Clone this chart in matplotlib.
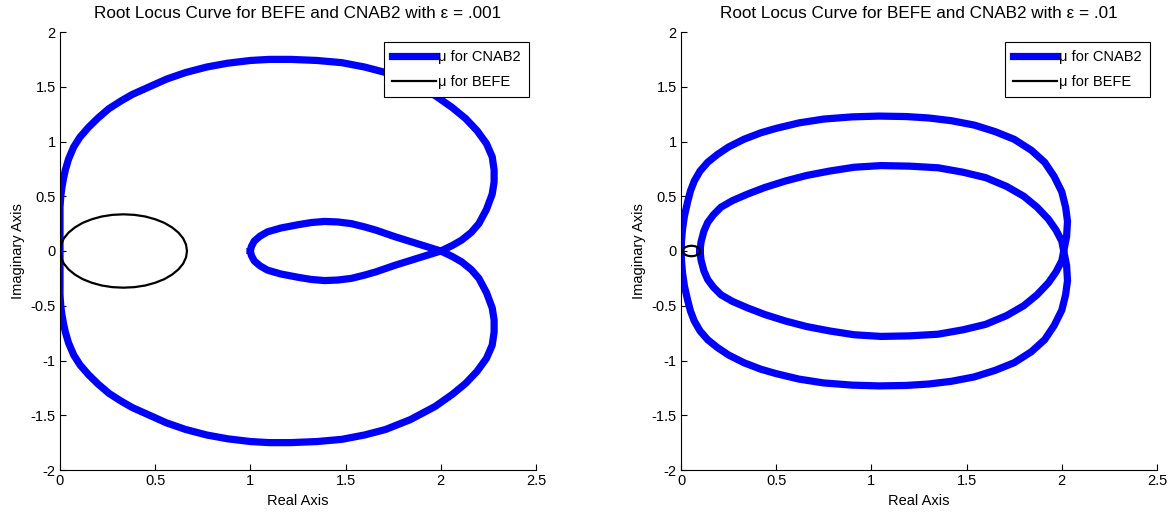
import numpy as np
import matplotlib
matplotlib.use("Agg")
import matplotlib.pyplot as plt

plt.rcParams['font.family'] = ['Liberation Sans', 'DejaVu Sans']
plt.rcParams['axes.unicode_minus'] = False

# ---- eps = .001 : mu for CNAB2 ----
# big outer loop, from the left edge round to the crossing at (2, 0)
outer_x1 = [0.00, 0.004, 0.01, 0.018, 0.028, 0.045, 0.072, 0.105, 0.15, 0.20, 0.257, 0.32, 0.38, 0.47,
            0.56, 0.66, 0.77, 0.88, 1.00, 1.10, 1.21, 1.35, 1.48, 1.60, 1.71, 1.84, 1.97, 2.06,
            2.13, 2.19, 2.24, 2.27, 2.28, 2.28, 2.27, 2.24, 2.20, 2.16, 2.11, 2.06, 2.00]
outer_up_y1 = [0.40, 0.50, 0.58, 0.66, 0.74, 0.84, 0.95, 1.04, 1.13, 1.215, 1.30, 1.37, 1.43, 1.50,
               1.57, 1.63, 1.68, 1.715, 1.74, 1.75, 1.75, 1.74, 1.72, 1.68, 1.63, 1.54, 1.42, 1.31,
               1.21, 1.10, 0.98, 0.86, 0.74, 0.63, 0.52, 0.38, 0.25, 0.17, 0.10, 0.05, 0.00]
outer_lo_y1 = [-0.40, -0.50, -0.58, -0.66, -0.74, -0.84, -0.95, -1.04, -1.13, -1.215, -1.30, -1.37, -1.43, -1.50,
               -1.57, -1.63, -1.68, -1.715, -1.74, -1.75, -1.75, -1.74, -1.72, -1.68, -1.63, -1.54, -1.42, -1.31,
               -1.21, -1.10, -0.98, -0.86, -0.74, -0.63, -0.52, -0.38, -0.25, -0.17, -0.10, -0.05, 0.00]
# small inner loop, from (1, 0) to the crossing
inner_x1 = [1.00, 1.005, 1.02, 1.05, 1.09, 1.16, 1.25, 1.32, 1.39, 1.46, 1.53, 1.60, 1.66, 1.76, 1.88, 2.00]
inner_up_y1 = [0.00, 0.04, 0.09, 0.135, 0.175, 0.21, 0.24, 0.26, 0.27, 0.265, 0.25, 0.22, 0.19, 0.13, 0.065, 0.00]
inner_lo_y1 = [0.00, -0.04, -0.09, -0.135, -0.175, -0.21, -0.24, -0.26, -0.27, -0.265, -0.25, -0.22, -0.19, -0.13, -0.065, 0.00]

# ---- eps = .001 : mu for BEFE ----
befe_x1 = [0.000, 0.005, 0.020, 0.045, 0.078, 0.119, 0.167, 0.219, 0.275, 0.333, 0.391, 0.448, 0.500,
           0.548, 0.589, 0.622, 0.647, 0.662, 0.667]
befe_up_y1 = [0.000, 0.058, 0.115, 0.168, 0.215, 0.257, 0.290, 0.315, 0.330, 0.335, 0.330, 0.315, 0.290,
              0.257, 0.215, 0.168, 0.115, 0.058, 0.000]
befe_lo_y1 = [0.000, -0.058, -0.115, -0.168, -0.215, -0.257, -0.290, -0.315, -0.330, -0.335, -0.330, -0.315, -0.290,
              -0.257, -0.215, -0.168, -0.115, -0.058, 0.000]

# ---- eps = .01 : mu for CNAB2 ----
outer_x2 = [0.000, 0.003, 0.008, 0.018, 0.035, 0.05, 0.07, 0.10, 0.14, 0.19, 0.25, 0.33, 0.42, 0.50,
            0.62, 0.75, 0.90, 1.04, 1.18, 1.30, 1.42, 1.54, 1.65, 1.75, 1.84, 1.91, 1.96, 2.00,
            2.02, 2.03, 2.025, 2.01]
outer_up_y2 = [0.00, 0.10, 0.20, 0.32, 0.45, 0.55, 0.64, 0.73, 0.81, 0.88, 0.95, 1.02, 1.08, 1.12,
               1.17, 1.205, 1.225, 1.232, 1.228, 1.215, 1.19, 1.15, 1.09, 1.02, 0.92, 0.81, 0.68, 0.54,
               0.40, 0.27, 0.13, 0.00]
outer_lo_y2 = [0.00, -0.10, -0.20, -0.32, -0.45, -0.55, -0.64, -0.73, -0.81, -0.88, -0.95, -1.02, -1.08, -1.12,
               -1.17, -1.205, -1.225, -1.232, -1.228, -1.215, -1.19, -1.15, -1.09, -1.02, -0.92, -0.81, -0.68, -0.54,
               -0.40, -0.27, -0.13, 0.00]
inner_x2 = [0.10, 0.105, 0.12, 0.14, 0.17, 0.21, 0.27, 0.35, 0.44, 0.55, 0.66, 0.78, 0.91, 1.05,
            1.20, 1.35, 1.48, 1.60, 1.71, 1.80, 1.87, 1.93, 1.97, 2.00, 2.01]
inner_up_y2 = [0.00, 0.08, 0.18, 0.26, 0.33, 0.40, 0.46, 0.52, 0.58, 0.64, 0.69, 0.73, 0.765, 0.78,
               0.775, 0.76, 0.72, 0.67, 0.59, 0.50, 0.40, 0.29, 0.19, 0.09, 0.00]
inner_lo_y2 = [0.00, -0.08, -0.18, -0.26, -0.33, -0.40, -0.46, -0.52, -0.58, -0.64, -0.69, -0.73, -0.765, -0.78,
               -0.775, -0.76, -0.72, -0.67, -0.59, -0.50, -0.40, -0.29, -0.19, -0.09, 0.00]

# ---- eps = .01 : mu for BEFE ----
befe_x2 = [0.010, 0.013, 0.022, 0.037, 0.055, 0.073, 0.088, 0.097, 0.100,
           0.097, 0.088, 0.073, 0.055, 0.037, 0.022, 0.013, 0.010]
befe_y2 = [0.000, 0.018, 0.034, 0.044, 0.048, 0.044, 0.034, 0.018, 0.000,
           -0.018, -0.034, -0.044, -0.048, -0.044, -0.034, -0.018, 0.000]

titles = ['Root Locus Curve for BEFE and CNAB2 with \u03b5 = .001',
          'Root Locus Curve for BEFE and CNAB2 with \u03b5 = .01']
xticks = [0, 0.5, 1, 1.5, 2, 2.5]
xticklabels = ['0', '0.5', '1', '1.5', '2', '2.5']
yticks = [-2, -1.5, -1, -0.5, 0, 0.5, 1, 1.5, 2]
yticklabels = ['-2', '-1.5', '-1', '-0.5', '0', '0.5', '1', '1.5', '2']

# closed curves in drawing order: inner top -> crossing -> outer bottom -> outer top -> inner bottom
cnab_x1 = inner_x1 + outer_x1[::-1] + outer_x1 + inner_x1[::-1]
cnab_y1 = inner_up_y1 + outer_lo_y1[::-1] + outer_up_y1 + inner_lo_y1[::-1]
cnab_x2 = inner_x2 + outer_x2[::-1] + outer_x2 + inner_x2[::-1]
cnab_y2 = inner_up_y2 + outer_lo_y2[::-1] + outer_up_y2 + inner_lo_y2[::-1]
bx1 = befe_x1 + befe_x1[::-1]
by1 = befe_up_y1 + befe_lo_y1[::-1]

fig = plt.figure(figsize=(11.72, 5.21), dpi=100)
ax1 = fig.add_axes([60 / 1172, 51 / 521, 476 / 1172, 438 / 521])
ax2 = fig.add_axes([681 / 1172, 51 / 521, 476 / 1172, 438 / 521])

data = [(ax1, cnab_x1, cnab_y1, bx1, by1, titles[0]),
        (ax2, cnab_x2, cnab_y2, befe_x2, befe_y2, titles[1])]

for ax, cx, cy, bx, by, title in data:
    ax.plot(cx, cy, color=(0, 0, 1), lw=5.2, label='\u03bc for CNAB2', solid_joinstyle='round')
    ax.plot(bx, by, color='black', lw=1.6, label='\u03bc for BEFE', solid_joinstyle='round')
    ax.set_xlim(0, 2.5)
    ax.set_ylim(-2, 2)
    ax.set_xticks(xticks)
    ax.set_xticklabels(xticklabels)
    ax.set_yticks(yticks)
    ax.set_yticklabels(yticklabels)
    ax.spines['top'].set_visible(False)
    ax.spines['right'].set_visible(False)
    ax.tick_params(direction='in', length=4, width=0.8, labelsize=10.5, pad=3)
    ax.set_title(title, fontsize=12.3, pad=10)
    ax.set_xlabel('Real Axis', fontsize=10.5)
    ax.set_ylabel('Imaginary Axis', fontsize=10.5)
    leg = ax.legend(loc='upper right', bbox_to_anchor=(1 - 7 / 476, 1 - 10 / 438),
                    borderaxespad=0, fontsize=10.5, fancybox=False, framealpha=1,
                    edgecolor='black', handlelength=3.0, handletextpad=0.15,
                    borderpad=0.55, labelspacing=0.75)
    leg.get_frame().set_linewidth(0.8)

fig.savefig('out.png', dpi=100)
